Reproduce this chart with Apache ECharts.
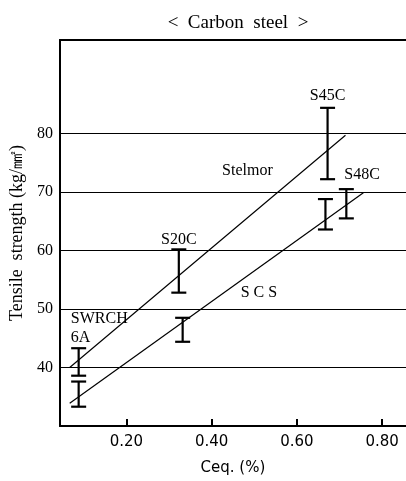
<!DOCTYPE html>
<html>
<head>
<meta charset="utf-8">
<script src="https://cdn.jsdelivr.net/npm/echarts@6/dist/echarts.min.js"></script>
<style>html,body{margin:0;padding:0;background:#fff;}#c{width:406px;height:481px;}</style>
</head>
<body>
<div id="c"></div>
<script>
// ---- data ----
const xTicks = [0.2, 0.4, 0.6, 0.8];
const yTicks = [40, 50, 60, 70, 80];
// error bars: [x, low, high]
const stelmorBars = [[0.088, 38.6, 43.3], [0.323, 52.8, 60.2], [0.672, 72.2, 84.4]];
const scsBars = [[0.088, 33.3, 37.6], [0.332, 44.4, 48.5], [0.667, 63.6, 68.8], [0.716, 65.5, 70.5]];
// regression lines
const stelmorLine = [[0.067, 40.0], [0.714, 79.7]];
const scsLine = [[0.067, 33.9], [0.756, 69.9]];
// annotations
const steelNames = ['S45C', 'S48C', 'S20C'];
const steelNameX = [0.672, 0.753, 0.323];
const steelNameY = [86.4, 72.9, 61.8];
const lineNames = ['Stelmor', 'S C S'];
const lineNameX = [0.484, 0.511];
const lineNameY = [73.6, 52.7];
const swrchName = 'SWRCH\n6A';
const swrchX = 0.0696, swrchY = 46.75;

const chart = echarts.init(document.getElementById('c'));
const SERIF = '"Liberation Serif", "Times New Roman", serif';
const SANS = '"DejaVu Sans", sans-serif';

function errRender(params, api) {
  const x = api.value(0), lo = api.value(1), hi = api.value(2);
  const pLo = api.coord([x, lo]), pHi = api.coord([x, hi]);
  const w = 7.5;
  const st = { stroke: '#000', lineWidth: 2.2 };
  return {
    type: 'group',
    children: [
      { type: 'line', shape: { x1: pLo[0], y1: pLo[1], x2: pHi[0], y2: pHi[1] }, style: st },
      { type: 'line', shape: { x1: pLo[0] - w, y1: pLo[1], x2: pLo[0] + w, y2: pLo[1] }, style: st },
      { type: 'line', shape: { x1: pHi[0] - w, y1: pHi[1], x2: pHi[0] + w, y2: pHi[1] }, style: st }
    ]
  };
}

const textSeries = (data, fontSize, align) => ({
  type: 'custom', silent: true, z: 5,
  data: data,
  renderItem: (params, api) => {
    const d = data[params.dataIndex];
    const p = api.coord(d.value);
    return {
      type: 'text', x: p[0], y: p[1],
      style: { text: d.name, fill: '#000', font: fontSize + 'px ' + SERIF,
        align: align || 'center', verticalAlign: 'middle', lineHeight: 19 }
    };
  }
});

chart.setOption({
  animation: false,
  backgroundColor: '#fff',
  title: { text: '<  Carbon  steel  >', left: 233, top: 9, textAlign: 'center',
    textStyle: { fontFamily: SERIF, fontSize: 19, fontWeight: 'normal', color: '#000' } },
  grid: { left: 56, top: 40, right: 0, bottom: 49 },
  xAxis: [{
    type: 'value', min: 0.044, max: 0.856,
    name: 'Ceq. (%)', nameLocation: 'middle', nameGap: 35,
    nameTextStyle: { fontFamily: SANS, fontSize: 15, color: '#000' },
    axisLine: { show: true, lineStyle: { color: '#000', width: 2 } },
    axisTick: { show: true, inside: true, length: 7, customValues: xTicks, lineStyle: { color: '#000', width: 2 } },
    axisLabel: { customValues: xTicks, formatter: v => v.toFixed(2), margin: 9,
      fontFamily: SANS, fontSize: 15, color: '#000' },
    splitLine: { show: false }
  }, {
    type: 'value', position: 'top', min: 0.044, max: 0.856,
    axisLine: { show: true, lineStyle: { color: '#000', width: 2 } },
    axisTick: { show: false }, axisLabel: { show: false }, splitLine: { show: false }
  }],
  yAxis: {
    type: 'value', min: 30, max: 96, interval: 10,
    name: 'Tensile  strength (kg/㎟)', nameLocation: 'middle', nameGap: 31, nameRotate: 90,
    nameTextStyle: { fontFamily: SERIF, fontSize: 18, color: '#000' },
    axisLine: { show: true, lineStyle: { color: '#000', width: 2 } },
    axisTick: { show: false },
    axisLabel: { formatter: v => (yTicks.indexOf(v) >= 0 ? String(v) : ''), margin: 7,
      fontFamily: SERIF, fontSize: 16, color: '#000' },
    splitLine: { show: false }
  },
  series: [
    { type: 'line', data: [], silent: true,
      markLine: { silent: true, symbol: 'none', label: { show: false },
        lineStyle: { color: '#000', width: 1.2, type: 'solid' },
        data: yTicks.map(v => ({ yAxis: v })) } },
    { type: 'line', data: stelmorLine, symbol: 'none', silent: true,
      lineStyle: { color: '#000', width: 1.2 } },
    { type: 'line', data: scsLine, symbol: 'none', silent: true,
      lineStyle: { color: '#000', width: 1.2 } },
    { type: 'custom', renderItem: errRender, data: stelmorBars, silent: true, z: 4 },
    { type: 'custom', renderItem: errRender, data: scsBars, silent: true, z: 4 },
    textSeries(steelNames.map((n, i) => ({ name: n, value: [steelNameX[i], steelNameY[i]] })), 16),
    textSeries(lineNames.map((n, i) => ({ name: n, value: [lineNameX[i], lineNameY[i]] })), 16),
    textSeries([{ name: swrchName, value: [swrchX, swrchY] }], 16, 'left')
  ]
});
</script>
</body>
</html>
